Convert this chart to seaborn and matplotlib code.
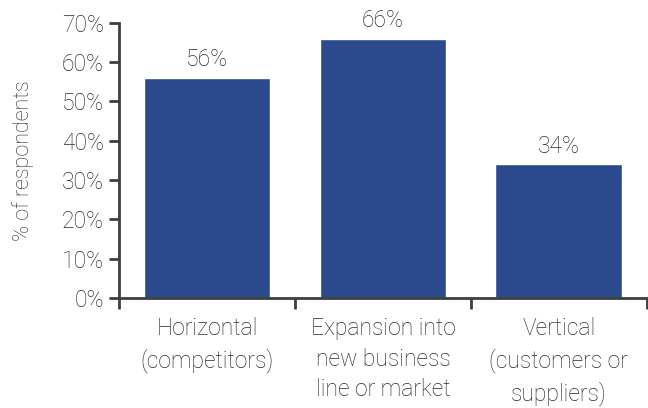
import matplotlib
matplotlib.use("Agg")
import matplotlib.pyplot as plt
import seaborn as sns
import pandas as pd
from matplotlib.ticker import FixedLocator, FuncFormatter

categories = ["Horizontal\n(competitors)",
              "Expansion into\nnew business\nline or market",
              "Vertical\n(customers or\nsuppliers)"]
values = [56, 66, 34]
y_ticks = [0, 10, 20, 30, 40, 50, 60, 70]

sns.set_theme(style="white")
plt.rcParams["font.family"] = ["Roboto", "DejaVu Sans"]
plt.rcParams["font.weight"] = "light"

text_color = "#2a2a2a"
bar_color = "#2B4A8E"
spine_color = "#3f3f3f"
fs = 16.5

df = pd.DataFrame({"category": categories, "value": values})

fig = plt.figure(figsize=(6.48, 4.08), dpi=100)
ax = fig.add_axes([0.184, 0.270, 0.814, 0.674])

sns.barplot(data=df, x="category", y="value", color=bar_color,
            saturation=1, width=0.72, ax=ax)

for i, v in enumerate(values):
    ax.text(i, v + 1.7, f"{v}%", ha="center", va="bottom",
            fontsize=fs, color=text_color, fontweight="light")

ax.set_xlim(-0.5, 2.5)
ax.set_ylim(0, 70)
ax.set_yticks(y_ticks)
ax.yaxis.set_major_formatter(FuncFormatter(lambda v, p: f"{int(v)}%"))

ax.xaxis.set_minor_locator(FixedLocator([-0.5, 0.5, 1.5, 2.5]))
ax.tick_params(axis="x", which="major", length=0, pad=14,
               labelsize=fs, labelcolor=text_color)
ax.tick_params(axis="x", which="minor", length=8, width=2,
               color=spine_color, direction="out", bottom=True)
ax.tick_params(axis="y", length=7, width=2, color=spine_color,
               direction="out", left=True, pad=4,
               labelsize=fs, labelcolor=text_color)
for lab in ax.get_xticklabels():
    lab.set_linespacing(1.42)
    lab.set_fontweight("light")
for lab in ax.get_yticklabels():
    lab.set_fontweight("light")

ax.set_xlabel("")
ax.set_ylabel("% of respondents", fontsize=15.5, color=text_color,
              fontweight="light", labelpad=20)

for s in ["top", "right"]:
    ax.spines[s].set_visible(False)
for s in ["left", "bottom"]:
    ax.spines[s].set_color(spine_color)
    ax.spines[s].set_linewidth(2)

fig.savefig("out.png", dpi=100)
